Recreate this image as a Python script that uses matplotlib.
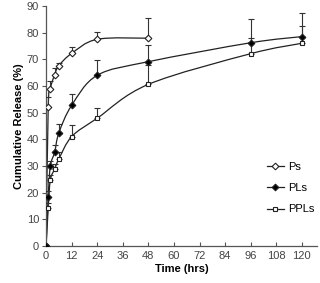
import matplotlib
matplotlib.use("Agg")
import matplotlib.pyplot as plt
import numpy as np
from matplotlib.path import Path
from matplotlib.patches import PathPatch

plt.rcParams["font.family"] = ["Liberation Sans", "DejaVu Sans"]

# release data (hrs, % cumulative release, upper error)
ps_t = [0, 1, 2, 4, 6, 12, 24, 48]
ps_y = [0, 52.0, 59.0, 64.2, 67.6, 72.2, 77.5, 77.9]
ps_err = [0, 4.0, 3.0, 2.4, 1.0, 2.3, 2.9, 7.5]

pls_t = [0, 1, 2, 4, 6, 12, 24, 48, 96, 120]
pls_y = [0, 18.5, 30.0, 35.1, 42.4, 52.7, 64.0, 69.1, 76.2, 78.5]
pls_err = [0, 2.0, 2.0, 2.8, 3.5, 4.4, 5.7, 6.3, 8.8, 9.0]

ppls_t = [0, 1, 2, 4, 6, 12, 24, 48, 96, 120]
ppls_y = [0, 14.1, 24.7, 28.8, 32.6, 41.0, 47.9, 60.6, 72.1, 76.0]
ppls_err = [0, 2.0, 2.0, 2.0, 2.8, 4.4, 3.7, 7.3, 6.0, 6.5]

labels = ["Ps", "PLs", "PPLs"]


def smooth_path(x, y):
    # Excel-like smoothed line: cubic bezier segments through the points
    p = np.column_stack([x, y]).astype(float)
    verts = [p[0]]
    codes = [Path.MOVETO]
    n = len(p)
    for i in range(n - 1):
        p0 = p[i - 1] if i > 0 else p[i]
        p3 = p[i + 2] if i + 2 < n else p[i + 1]
        c1 = p[i] + (p[i + 1] - p0) / 6
        c2 = p[i + 1] - (p3 - p[i]) / 6
        verts += [c1, c2, p[i + 1]]
        codes += [Path.CURVE4] * 3
    return Path(verts, codes)


fig = plt.figure(figsize=(3.2, 2.83), dpi=100)
ax = fig.add_axes([0.144, 0.131, 0.846, 0.848])

# (marker, face, size, z-order of markers) -- PLs on top so the origin shows black
series = [
    (ps_t, ps_y, ps_err, "D", "white", 3.4, 4),
    (pls_t, pls_y, pls_err, "D", "black", 3.4, 6),
    (ppls_t, ppls_y, ppls_err, "s", "white", 3.0, 5),
]
for (t, y, e, m, fc, ms, z), lab in zip(series, labels):
    ax.add_patch(PathPatch(smooth_path(t, y), fill=False, ec="#222222", lw=0.9, zorder=2))
    ax.errorbar(t, y, yerr=[np.zeros(len(e)), e], fmt="none", ecolor="#333333",
                elinewidth=0.8, capsize=2, capthick=0.8, zorder=3)
    ax.plot(t, y, ls="none", marker=m, ms=ms, mfc=fc, mec="#222222", mew=0.8, zorder=z)
    ax.plot([], [], color="#222222", lw=0.9, marker=m, ms=ms, mfc=fc,
            mec="#222222", mew=0.8, label=lab)

ax.set_xlim(0, 127)
ax.set_ylim(0, 90)
ax.set_xticks(np.arange(0, 121, 12))
ax.set_yticks(np.arange(0, 91, 10))
for s in ["top", "right"]:
    ax.spines[s].set_visible(False)
for s in ["left", "bottom"]:
    ax.spines[s].set_color("#555555")
    ax.spines[s].set_linewidth(0.9)
ax.tick_params(axis="x", direction="in", length=3, width=0.8, colors="#555555",
               labelcolor="#444444", labelsize=8, pad=4)
ax.tick_params(axis="y", direction="out", length=3, width=0.8, colors="#555555",
               labelcolor="#444444", labelsize=8, pad=2)

ax.set_xlabel("Time (hrs)", fontsize=8, fontweight="bold", labelpad=2)
ax.set_ylabel("Cumulative Release (%)", fontsize=8, fontweight="bold", labelpad=2)

ax.legend(loc="center left", bbox_to_anchor=(0.8, 0.24), frameon=False,
          fontsize=8, handlelength=1.5, handletextpad=0.4, labelspacing=1.0,
          borderaxespad=0)

fig.savefig("out.png", dpi=100)
